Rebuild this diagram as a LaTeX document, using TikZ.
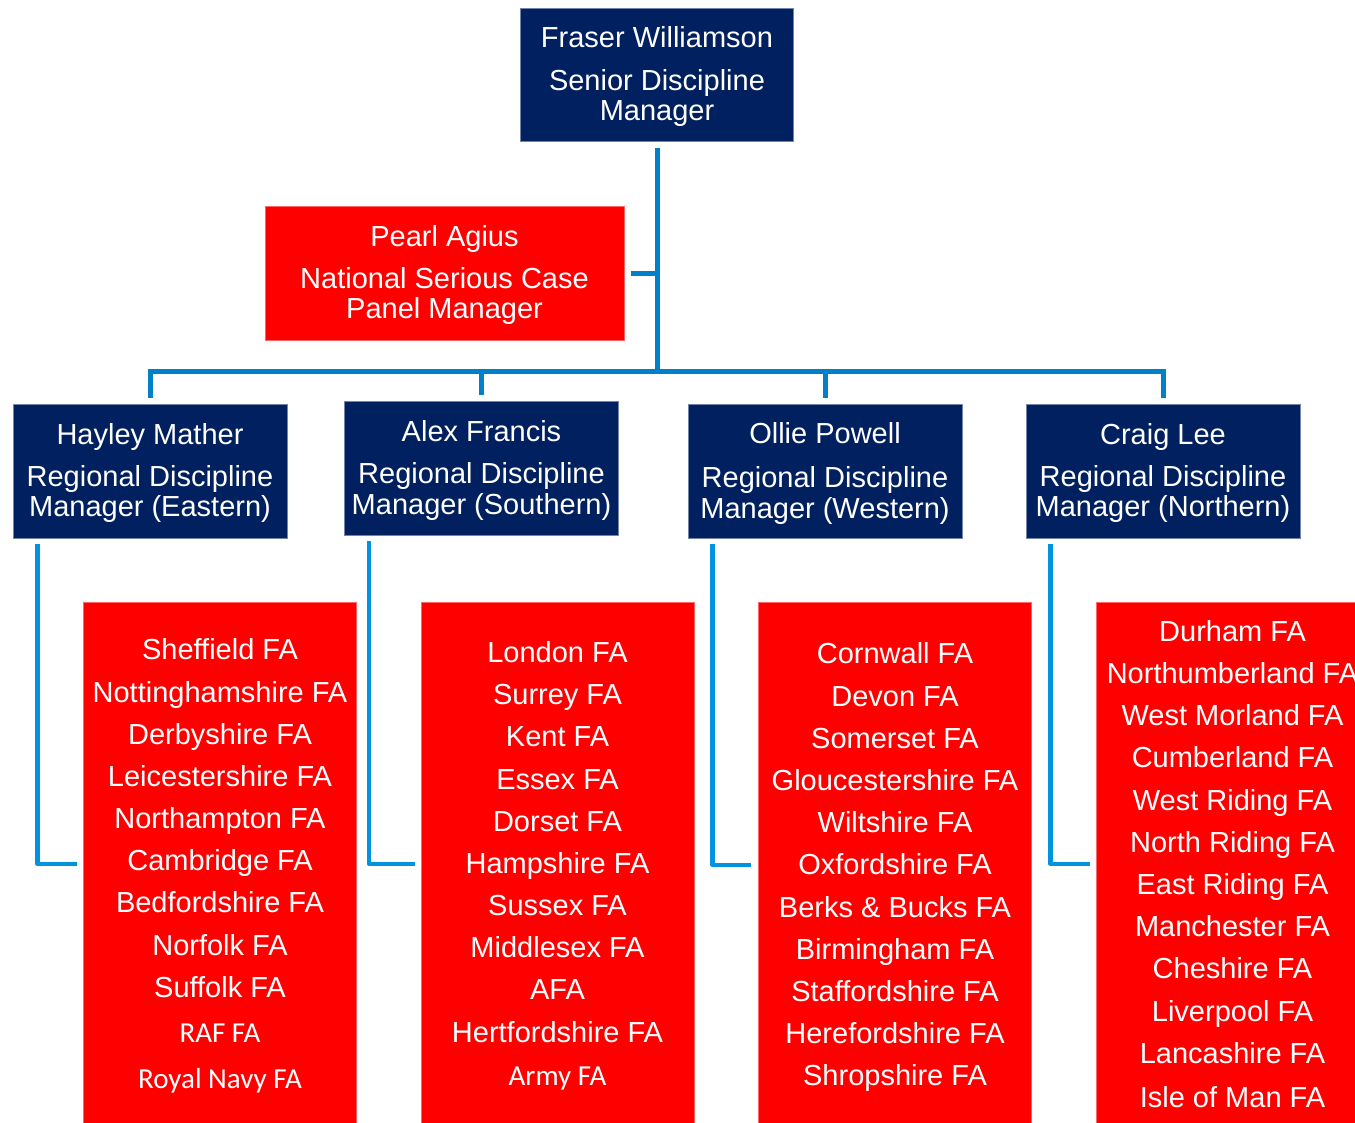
\documentclass[tikz,border=0pt]{standalone}
\usepackage{fontspec}
\setmainfont{Liberation Sans}
\newfontfamily\carl{Carlito}
\usetikzlibrary{calc}
\definecolor{navy}{HTML}{002060}
\definecolor{fared}{HTML}{FF0000}
\definecolor{trunk}{HTML}{0080C8}
\definecolor{elbow}{HTML}{0094E0}
\tikzset{
  navybox/.style={fill=navy, draw=navy!55!white, line width=0.6pt, inner sep=0pt,
    minimum width=205.5pt, minimum height=100.5pt},
  redbox/.style={fill=fared, draw=fared!60!white, line width=0.6pt, inner sep=0pt,
    minimum width=204.75pt},
  txt/.style={anchor=base, text=white, inner sep=0pt,
    font=\fontsize{21.75}{22.5}\selectfont},
  trunkline/.style={draw=trunk, line width=3.75pt},
  elbowline/.style={draw=elbow, line width=3.2pt, line join=round}
}
\begin{document}
\begin{tikzpicture}[x=0.75pt, y=-0.75pt]
\useasboundingbox (0,0) rectangle (1355,1122);
\clip (0,0) rectangle (1355,1122);
\fill[white] (0,0) rectangle (1355,1122);

% top boxes
\node[navybox, minimum width=204.75pt, minimum height=99.75pt] (fraser) at (657,74.5) {};
\node[txt] (fraser1) at (657,47) {Fraser Williamson};
\node[txt] (fraser2) at (657,90) {Senior Discipline};
\node[txt] (fraser3) at (657,120) {Manager};

\node[redbox, minimum width=269.25pt, minimum height=100.5pt] (pearl) at (444.5,273) {};
\node[txt] (pearl1) at (444.5,246) {Pearl Agius};
\node[txt] (pearl2) at (444.5,288) {National Serious Case};
\node[txt] (pearl3) at (444.5,318) {Panel Manager};

% regional managers
\node[navybox] (hayley) at (150,471) {};
\node[txt] (hayley1) at (150,444) {Hayley Mather};
\node[txt] (hayley2) at (150,486) {Regional Discipline};
\node[txt] (hayley3) at (150,516) {Manager (Eastern)};

\node[navybox] (alex) at (481.5,468) {};
\node[txt] (alex1) at (481.5,441) {Alex Francis};
\node[txt] (alex2) at (481.5,483) {Regional Discipline};
\node[txt] (alex3) at (481.5,514) {Manager (Southern)};

\node[navybox] (ollie) at (825,471) {};
\node[txt] (ollie1) at (825,443) {Ollie Powell};
\node[txt] (ollie2) at (825,487) {Regional Discipline};
\node[txt] (ollie3) at (825,518) {Manager (Western)};

\node[navybox] (craig) at (1163,471) {};
\node[txt] (craig1) at (1163,444) {Craig Lee};
\node[txt] (craig2) at (1163,486) {Regional Discipline};
\node[txt] (craig3) at (1163,516) {Manager (Northern)};

% county boxes
\node[redbox, minimum height=405pt] (eastbox) at (219.5,872) {};
\node[redbox, minimum height=405pt] (southbox) at (557.5,872) {};
\node[redbox, minimum height=405pt] (westbox) at (895,872) {};
\node[redbox, minimum height=405pt] (northbox) at (1232.5,872) {};

\foreach \y/\t [count=\i] in {659/Sheffield FA, 702/Nottinghamshire FA, 744/Derbyshire FA,
  786/Leicestershire FA, 828/Northampton FA, 870/Cambridge FA, 912/Bedfordshire FA,
  955/Norfolk FA, 997/Suffolk FA, 1042/{\carl RAF FA}, 1088/{\carl Royal Navy FA}}
  \node[txt] (e\i) at (220,\y) {\t};

\foreach \y/\t [count=\i] in {662/London FA, 704/Surrey FA, 746/Kent FA, 789/Essex FA,
  831/Dorset FA, 873/Hampshire FA, 915/Sussex FA, 957/Middlesex FA, 999/AFA,
  1042/Hertfordshire FA, 1085/{\carl Army FA}}
  \node[txt] (s\i) at (557.5,\y) {\t};

\foreach \y/\t [count=\i] in {663/Cornwall FA, 706/Devon FA, 748/Somerset FA,
  790/Gloucestershire FA, 832/Wiltshire FA, 874/Oxfordshire FA, 917/Berks \& Bucks FA,
  959/Birmingham FA, 1001/Staffordshire FA, 1043/Herefordshire FA, 1085/Shropshire FA}
  \node[txt] (w\i) at (895,\y) {\t};

\foreach \y/\t [count=\i] in {641/Durham FA, 683/Northumberland FA, 725/West Morland FA,
  767/Cumberland FA, 810/West Riding FA, 852/North Riding FA, 894/East Riding FA,
  936/Manchester FA, 978/Cheshire FA, 1021/Liverpool FA, 1063/Lancashire FA,
  1107/Isle of Man FA}
  \node[txt] (n\i) at (1232.5,\y) {\t};

% connectors
\coordinate (bus) at (657,371);
\draw[trunkline] ($(fraser.south)+(0,7)$) -- (bus);
\draw[trunkline] ($(pearl.east)+(7,0)$) -- (fraser.south |- pearl.east);
\draw[trunkline] ($(hayley.north)+(0,-6)$) |- (bus) -| ($(craig.north)+(0,-6)$);
\draw[trunkline] ($(alex.north)+(0,-6)$) -- (alex.north |- bus);
\draw[trunkline] ($(ollie.north)+(0,-6)$) -- (ollie.north |- bus);

\draw[elbowline] ($(hayley.south west)+(25,6)$) |- ($(eastbox.west)+(-6,-8)$);
\draw[elbowline] ($(alex.south west)+(25,6)$) |- ($(southbox.west)+(-6,-8)$);
\draw[elbowline] ($(ollie.south west)+(25,6)$) |- ($(westbox.west)+(-7,-7)$);
\draw[elbowline] ($(craig.south west)+(25,6)$) |- ($(northbox.west)+(-6,-8)$);
\end{tikzpicture}
\end{document}
